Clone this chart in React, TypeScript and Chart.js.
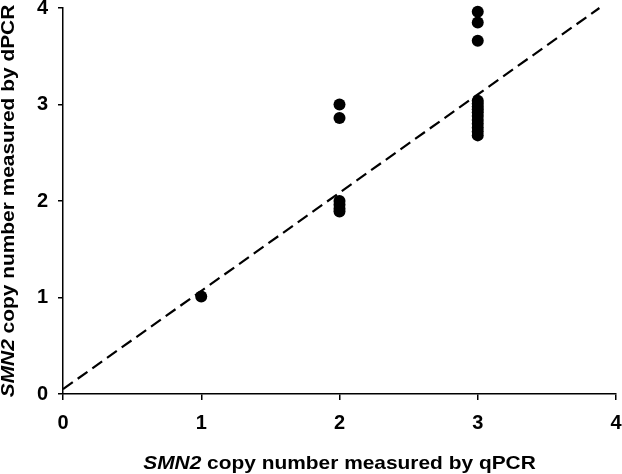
import React, { useEffect, useRef } from "react";
import { Chart, registerables } from "chart.js";

Chart.register(...registerables);

// Data
const qpcrValues = [1, 2, 2, 2, 2, 2, 2, 3, 3, 3, 3, 3, 3, 3, 3, 3, 3, 3, 3, 3, 3];
const dpcrValues = [1.01, 3.0, 2.86, 2.0, 1.96, 1.92, 1.89, 3.96, 3.85, 3.66, 3.04, 3.01, 2.98, 2.95, 2.92, 2.88, 2.84, 2.8, 2.76, 2.72, 2.68];
const refLineX = [0, 3.88];
const refLineY = [0.05, 4.0];
const tickValues = [0, 1, 2, 3, 4];
const xTitleItalic = "SMN2";
const xTitleRest = " copy number measured by qPCR";
const yTitleItalic = "SMN2";
const yTitleRest = " copy number measured by dPCR";

const FONT_FAMILY = "'Liberation Sans', Arial, sans-serif";
const STRETCH = 1.1;

const titlePlugin = {
  id: "mixedTitles",
  afterDraw(chart: any) {
    const ctx = chart.ctx as CanvasRenderingContext2D;
    const area = chart.chartArea;
    const italicFont = `italic bold 19px ${FONT_FAMILY}`;
    const boldFont = `bold 19px ${FONT_FAMILY}`;
    const drawTitle = (a: string, b: string) => {
      ctx.font = italicFont;
      const wa = ctx.measureText(a).width;
      ctx.font = boldFont;
      const wb = ctx.measureText(b).width;
      const total = wa + wb;
      ctx.textBaseline = "alphabetic";
      ctx.textAlign = "left";
      ctx.fillStyle = "#000";
      ctx.font = italicFont;
      ctx.fillText(a, -total / 2, 0);
      ctx.font = boldFont;
      ctx.fillText(b, -total / 2 + wa, 0);
    };
    // x title
    ctx.save();
    ctx.translate((area.left + area.right) / 2, 469);
    ctx.scale(STRETCH, 1);
    drawTitle(xTitleItalic, xTitleRest);
    ctx.restore();
    // y title
    ctx.save();
    ctx.translate(14, (area.top + area.bottom) / 2);
    ctx.rotate(-Math.PI / 2);
    ctx.scale(STRETCH, 1);
    drawTitle(yTitleItalic, yTitleRest);
    ctx.restore();
  },
};

export default function App() {
  const canvasRef = useRef<HTMLCanvasElement | null>(null);

  useEffect(() => {
    document.body.style.margin = "0";
    const canvas = canvasRef.current;
    if (!canvas) return;
    const points = qpcrValues.map((x, i) => ({ x, y: dpcrValues[i] }));
    const linePts = refLineX.map((x, i) => ({ x, y: refLineY[i] }));
    const tickFont = { family: FONT_FAMILY, size: 20, weight: "bold" as const };
    const chart = new Chart(canvas, {
      type: "scatter",
      data: {
        datasets: [
          {
            type: "line",
            data: linePts,
            borderColor: "#000",
            borderWidth: 2.2,
            borderDash: [12, 6],
            pointRadius: 0,
            fill: false,
            clip: false,
          },
          {
            type: "scatter",
            data: points,
            backgroundColor: "#000",
            borderColor: "#000",
            pointRadius: 6,
            pointBorderWidth: 0,
            clip: false,
          },
        ],
      },
      options: {
        responsive: false,
        animation: false,
        layout: { padding: { top: 8, right: 5, left: 0, bottom: 0 } },
        plugins: {
          legend: { display: false },
          tooltip: { enabled: false },
        },
        scales: {
          x: {
            type: "linear",
            min: 0,
            max: 4,
            afterBuildTicks: (s: any) => {
              s.ticks = tickValues.map((v) => ({ value: v }));
            },
            afterFit: (s: any) => {
              s.height = 80;
              s.paddingLeft = 0;
              s.paddingRight = 0;
            },
            ticks: { color: "#000", font: tickFont, padding: 11 },
            grid: { drawOnChartArea: false, drawTicks: true, tickLength: 6, color: "#000", lineWidth: 1.5 },
            border: { display: true, color: "#000", width: 1.5 },
          },
          y: {
            type: "linear",
            min: 0,
            max: 4,
            afterBuildTicks: (s: any) => {
              s.ticks = tickValues.map((v) => ({ value: v }));
            },
            afterFit: (s: any) => {
              s.width = 63;
              s.paddingTop = 0;
              s.paddingBottom = 0;
            },
            ticks: { color: "#000", font: tickFont, padding: 10 },
            grid: { drawOnChartArea: false, drawTicks: true, tickLength: 5, color: "#000", lineWidth: 1.5 },
            border: { display: true, color: "#000", width: 1.5 },
          },
        },
      },
      plugins: [titlePlugin],
    });
    return () => chart.destroy();
  }, []);

  return (
    <div style={{ width: 622, height: 474, background: "#fff" }}>
      <canvas ref={canvasRef} width={622} height={474} style={{ display: "block" }} />
    </div>
  );
}
